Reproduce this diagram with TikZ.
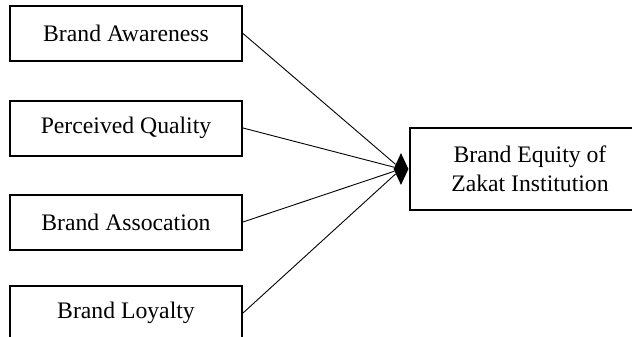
\documentclass[tikz,border=0pt]{standalone}
\usepackage{fontspec}
\setmainfont{Liberation Serif}
\usetikzlibrary{shapes.geometric}
\begin{document}
\begin{tikzpicture}[x=1pt,y=-1pt,
  factor/.style={draw,line width=2pt,minimum width=232pt,minimum height=55pt,inner sep=0pt,font=\fontsize{23.7}{28.5}\selectfont},
  equity/.style={draw,line width=2pt,minimum width=240pt,minimum height=82pt,inner sep=0pt,align=center,font=\fontsize{23.7}{28.5}\selectfont},
  link/.style={line width=0.9pt}]
\useasboundingbox(0,0)rectangle(632,337);
\clip(0,0)rectangle(632,337);
%
\node[factor](aware)at(126,33.5){Brand Awareness};
\node[factor](quality)at(126,128){Perceived Quality};
\node[factor](assoc)at(126,222){Brand Assocation};
\node[factor](loyal)at(126,313){Brand Loyalty};
%
\node[equity](equity)at(530,169){Brand Equity of\\Zakat Institution};
\node[diamond,fill,inner sep=0pt,minimum width=15pt,minimum height=32pt](hub)at(401,169){};
%
\draw[link](aware.east)--(hub);
\draw[link](quality.east)--(hub);
\draw[link](assoc.east)--(hub);
\draw[link](loyal.east)--(hub);
\end{tikzpicture}
\end{document}
